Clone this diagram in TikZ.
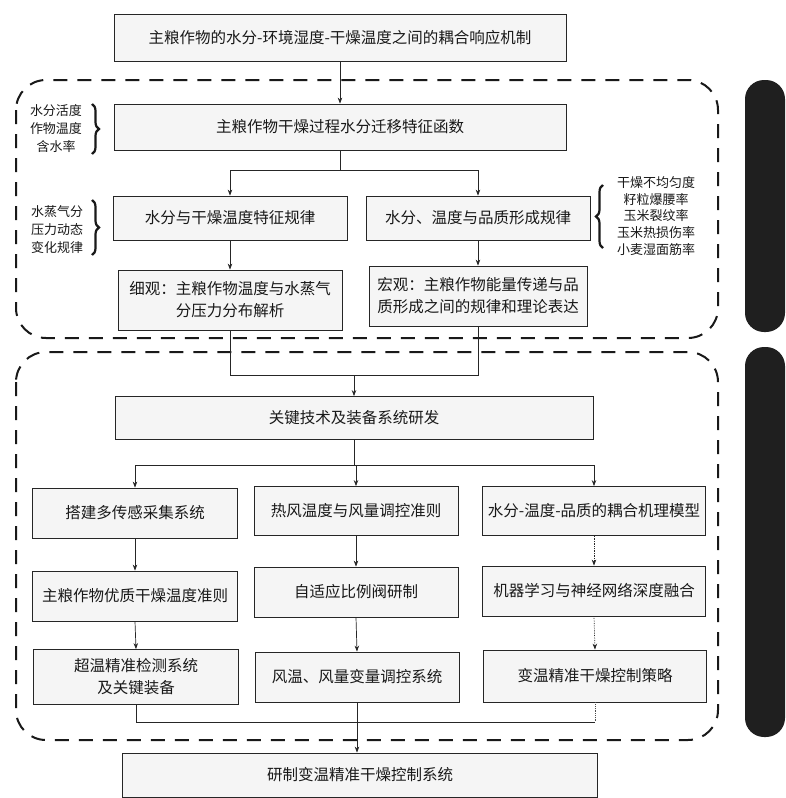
\documentclass[tikz,border=0pt]{standalone}
\usepackage{fontspec}
\newfontfamily\cjk{Noto Sans CJK SC}
\usetikzlibrary{arrows.meta,decorations.pathreplacing}
\begin{document}
\begin{tikzpicture}[x=1pt,y=-1pt,
  box/.style={draw=black!85, line width=0.8pt, fill=black!4, align=center, inner sep=2pt,
    text=black!90, font=\cjk\fontsize{15.5}{22}\selectfont},
  note/.style={align=center, inner sep=0pt, text=black!90, font=\cjk\fontsize{13}{18}\selectfont},
  noter/.style={align=center, inner sep=0pt, text=black!90, font=\cjk\fontsize{13}{16.7}\selectfont},
  arr/.style={-{Stealth[length=6pt,width=4.5pt]}, line width=0.7pt, draw=black!85},
  ln/.style={line width=0.7pt, draw=black!85},
  dotln/.style={line width=0.8pt, draw=black!70, densely dotted},
  dashbox/.style={draw=black!90, line width=2pt, dash pattern=on 14pt off 10pt, rounded corners=30pt},
  bracestyle/.style={draw=black!90, line width=2.2pt, decorate, decoration={brace, amplitude=7pt}},
  bar/.style={fill=black!88, rounded corners=19pt}
]
\fill[white] (0,0) rectangle (786,798);
\useasboundingbox (0,0) rectangle (786,798);

% dark side bars
\fill[bar] (745,80) rectangle (785,332);
\fill[bar] (745,347) rectangle (785,737);

% dashed frames
\draw[dashbox] (16,80) rectangle (718,338);
\draw[dashbox] (16,352) rectangle (718,740);

% upper part
\node[box, minimum width=452pt, minimum height=47pt] (top) at (340,38) {主粮作物的水分-环境湿度-干燥温度之间的耦合响应机制};
\node[box, minimum width=452pt, minimum height=46pt] (fn) at (340,127) {主粮作物干燥过程水分迁移特征函数};
\node[box, minimum width=234pt, minimum height=44pt] (b3) at (230,218) {水分与干燥温度特征规律};
\node[box, minimum width=224pt, minimum height=44pt] (b4) at (478,218) {水分、温度与品质形成规律};
\node[box, minimum width=224pt, minimum height=60pt] (b5) at (230,300) {细观：主粮作物温度与水蒸气\\分压力分布解析};
\node[box, minimum width=218pt, minimum height=60pt] (b6) at (478,296) {宏观：主粮作物能量传递与品\\质形成之间的规律和理论表达};

\node[note] (n1) at (56,129) {水分活度\\作物温度\\含水率};
\node[note] (n2) at (57,230) {水蒸气分\\压力动态\\变化规律};
\node[noter] (n3) at (656,216) {干燥不均匀度\\籽粒爆腰率\\玉米裂纹率\\玉米热损伤率\\小麦湿面筋率};

\draw[bracestyle] (92,104) -- (92,154);
\draw[bracestyle] (92,200) -- (92,255);
\draw[bracestyle] (603,248) -- (603,185);

\draw[arr] (top.south) -- (fn.north);
\coordinate (j1) at (340,170);
\draw[ln] (fn.south) -- (j1);
\draw[ln] (j1 -| b3.north) -- (j1 -| b4.north);
\draw[arr] (j1 -| b3.north) -- (b3.north);
\draw[arr] (j1 -| b4.north) -- (b4.north);
\draw[arr] (b3.south) -- (b5.north);
\draw[arr] (b4.south) -- (b6.north);

% lower part
\node[box, minimum width=478pt, minimum height=43pt] (b7) at (354,418) {关键技术及装备系统研发};
\coordinate (j2) at (354,375);
\draw[ln] (b5.south) |- (j2 -| b6.south) -- (b6.south);
\draw[arr] (j2) -- (b7.north);

\node[box, minimum width=205pt, minimum height=50pt] (c11) at (135,513) {搭建多传感采集系统};
\node[box, minimum width=204pt, minimum height=49pt] (c21) at (356,511) {热风温度与风量调控准则};
\node[box, minimum width=223pt, minimum height=49pt] (c31) at (594,511) {水分-温度-品质的耦合机理模型};

\node[box, minimum width=205pt, minimum height=50pt] (c12) at (135,596) {主粮作物优质干燥温度准则};
\node[box, minimum width=204pt, minimum height=50pt] (c22) at (356,592) {自适应比例阀研制};
\node[box, minimum width=223pt, minimum height=50pt] (c32) at (594,591) {机器学习与神经网络深度融合};

\node[box, minimum width=205pt, minimum height=55pt] (c13) at (136,677) {超温精准检测系统\\及关键装备};
\node[box, minimum width=204pt, minimum height=50pt] (c23) at (357,677) {风温、风量变量调控系统};
\node[box, minimum width=223pt, minimum height=52pt] (c33) at (595,676) {变温精准干燥控制策略};

\coordinate (j3) at (354,465);
\draw[ln] (b7.south) -- (j3);
\draw[ln] (j3 -| c11.north) -- (j3 -| c31.north);
\draw[arr] (j3 -| c11.north) -- (c11.north);
\draw[arr] (j3 -| c21.north) -- (c21.north);
\draw[arr] (j3 -| c31.north) -- (c31.north);

\draw[arr] (c11.south) -- (c12.north);
\draw[arr] (c12.south) -- (c13.north);
\draw[arr] (c21.south) -- (c22.north);
\draw[arr] (c22.south) -- (c23.north);
\draw[arr, densely dotted] (c31.south) -- (c32.north);
\draw[arr, densely dotted] (c32.south) -- (c33.north);

\node[box, minimum width=475pt, minimum height=44pt] (b8) at (360,775) {研制变温精准干燥控制系统};
\coordinate (j4) at (357,722);
\draw[ln] (c13.south) |- (c33.south |- j4);
\draw[dotln] (c33.south) -- (c33.south |- j4);
\draw[arr] (c23.south) -- (c23.south |- b8.north);
\end{tikzpicture}
\end{document}
